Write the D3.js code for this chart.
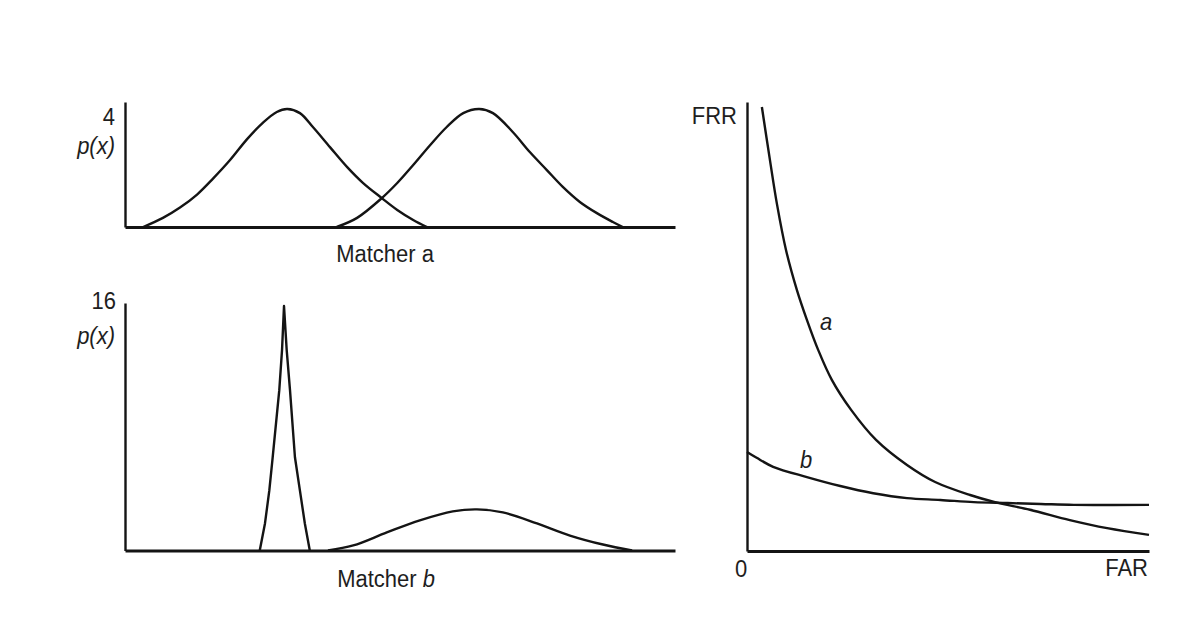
<!DOCTYPE html>
<html>
<head>
<meta charset="utf-8">
<script src="https://cdn.jsdelivr.net/npm/d3@7/dist/d3.min.js"></script>
<style>
  html, body { margin: 0; padding: 0; background: #ffffff; }
  svg { display: block; }
  text { font-family: "Liberation Sans", Arial, sans-serif; fill: #1e1e1e; }
</style>
</head>
<body>
<svg id="chart" width="1181" height="620"></svg>
<script>
// Matcher a: score densities of impostor and genuine scores (score 0-100, p(x))
const matcherA_impostorX = [3.3, 6.9, 10.0, 13.1, 16.0, 19.1, 22.2, 25.1, 27.6, 29.5, 31.8, 34.2, 37.3, 40.4, 43.3, 46.7, 49.5, 52.4, 54.9];
const matcherA_impostorY = [0, 0.31, 0.66, 1.10, 1.64, 2.27, 2.98, 3.54, 3.90, 4.0, 3.86, 3.38, 2.70, 2.03, 1.49, 0.98, 0.58, 0.24, 0];
const matcherA_genuineX = [38.5, 42.2, 46.7, 49.5, 52.4, 55.5, 58.5, 61.5, 64.4, 66.9, 70.5, 73.6, 76.7, 79.6, 82.7, 85.8, 88.7, 90.5];
const matcherA_genuineY = [0, 0.31, 0.98, 1.49, 2.10, 2.78, 3.39, 3.86, 4.0, 3.86, 3.22, 2.54, 1.93, 1.36, 0.85, 0.47, 0.17, 0];

// Matcher b: narrow impostor peak and broad genuine hump
const matcherB_impostorX = [24.5, 25.45, 26.24, 26.85, 28.05, 28.55, 28.91, 29.4, 30.0, 30.9, 31.8, 32.7, 33.6];
const matcherB_impostorY = [0, 1.77, 3.93, 6.10, 10.49, 13.11, 16.0, 13.11, 10.49, 6.10, 3.93, 1.77, 0];
const matcherB_genuineX = [36.9, 41.5, 47.6, 53.6, 59.6, 64.0, 68.7, 74.9, 80.9, 86.9, 92.2];
const matcherB_genuineY = [0, 0.33, 1.18, 1.97, 2.56, 2.69, 2.49, 1.77, 0.98, 0.39, 0];

// Error trade-off curves (FAR vs FRR, both 0-1)
const rocA_far = [0.037, 0.057, 0.075, 0.097, 0.124, 0.149, 0.177, 0.211, 0.259, 0.321, 0.398, 0.468, 0.555, 0.617, 0.704, 0.803, 0.896, 1.0];
const rocA_frr = [0.991, 0.873, 0.772, 0.672, 0.583, 0.516, 0.449, 0.382, 0.315, 0.248, 0.192, 0.154, 0.125, 0.109, 0.092, 0.069, 0.051, 0.036];
const rocB_far = [0, 0.024, 0.065, 0.149, 0.232, 0.314, 0.398, 0.481, 0.564, 0.648, 0.731, 0.813, 1.0];
const rocB_frr = [0.221, 0.208, 0.188, 0.165, 0.145, 0.129, 0.118, 0.114, 0.109, 0.107, 0.105, 0.103, 0.103];

// Axis labels
const topTickLabel = "4";
const bottomTickLabel = "16";
const densityLabel = "p(x)";
const rocXLabel = "FAR";
const rocYLabel = "FRR";
const rocOriginLabel = "0";

const zip = (xs, ys) => xs.map((x, i) => [x, ys[i]]);

const svg = d3.select("#chart");
const ink = "#141414";

function axesFrame(g, x, yFrame, bottomY, leftX) {
  g.append("g")
    .attr("transform", `translate(0,${bottomY})`)
    .call(d3.axisBottom(x).tickValues([]).tickSizeOuter(0))
    .select(".domain").attr("stroke", ink).attr("stroke-width", 3);
  g.append("g")
    .attr("transform", `translate(${leftX},0)`)
    .call(d3.axisLeft(yFrame).tickValues([]).tickSizeOuter(0))
    .select(".domain").attr("stroke", ink).attr("stroke-width", 2.4);
}

function drawCurve(g, pts, x, y, curve) {
  g.append("path")
    .datum(pts)
    .attr("fill", "none")
    .attr("stroke", ink)
    .attr("stroke-width", 2.4)
    .attr("stroke-linejoin", "round")
    .attr("d", d3.line().x(d => x(d[0])).y(d => y(d[1])).curve(curve));
}

// text slightly taller than wide, as in the printed figure
function label(g, px, py, str, anchor, italic) {
  return g.append("text")
    .attr("transform", `translate(${px},${py}) scale(1,1.1)`)
    .attr("text-anchor", anchor)
    .attr("font-size", 22)
    .attr("font-style", italic ? "italic" : null)
    .text(str);
}

const smooth = d3.curveCatmullRom.alpha(0.5);

// ---------- Matcher a ----------
{
  const g = svg.append("g");
  const x = d3.scaleLinear().domain([0, 100]).range([125, 675]);
  const y = d3.scaleLinear().domain([0, 4]).range([227, 109]);
  const yFrame = d3.scaleLinear().domain([0, 1]).range([227, 102]);
  axesFrame(g, x, yFrame, 227, 125);
  drawCurve(g, zip(matcherA_impostorX, matcherA_impostorY), x, y, smooth);
  drawCurve(g, zip(matcherA_genuineX, matcherA_genuineY), x, y, smooth);

  label(g, 115, y(4) + 16, topTickLabel, "end", false);
  label(g, 115, y(4) + 45, densityLabel, "end", true);
  label(g, 385, 262, "Matcher a", "middle", false);
}

// ---------- Matcher b ----------
{
  const g = svg.append("g");
  const x = d3.scaleLinear().domain([0, 100]).range([125, 675]);
  const y = d3.scaleLinear().domain([0, 16]).range([550.5, 306]);
  const yFrame = d3.scaleLinear().domain([0, 1]).range([550.5, 303]);
  axesFrame(g, x, yFrame, 550.5, 125);
  drawCurve(g, zip(matcherB_impostorX, matcherB_impostorY), x, y, d3.curveLinear);
  drawCurve(g, zip(matcherB_genuineX, matcherB_genuineY), x, y, smooth);

  label(g, 116, y(16) + 3, bottomTickLabel, "end", false);
  label(g, 115, y(16) + 38, densityLabel, "end", true);
  const t = label(g, 386, 587, "", "middle", false);
  t.append("tspan").text("Matcher ");
  t.append("tspan").attr("font-style", "italic").text("b");
}

// ---------- FAR / FRR ----------
{
  const g = svg.append("g");
  const x = d3.scaleLinear().domain([0, 1]).range([747, 1149]);
  const y = d3.scaleLinear().domain([0, 1]).range([551, 103]);
  const yFrame = d3.scaleLinear().domain([0, 1]).range([551, 102]);
  axesFrame(g, x, yFrame, 551, 747);
  drawCurve(g, zip(rocA_far, rocA_frr), x, y, smooth);
  drawCurve(g, zip(rocB_far, rocB_frr), x, y, smooth);

  label(g, 737, 124, rocYLabel, "end", false);
  label(g, 741, 577, rocOriginLabel, "middle", false);
  label(g, 1148, 576, rocXLabel, "end", false);
  label(g, 826, 330, "a", "middle", true);
  label(g, 806, 468, "b", "middle", true);
}
</script>
</body>
</html>
